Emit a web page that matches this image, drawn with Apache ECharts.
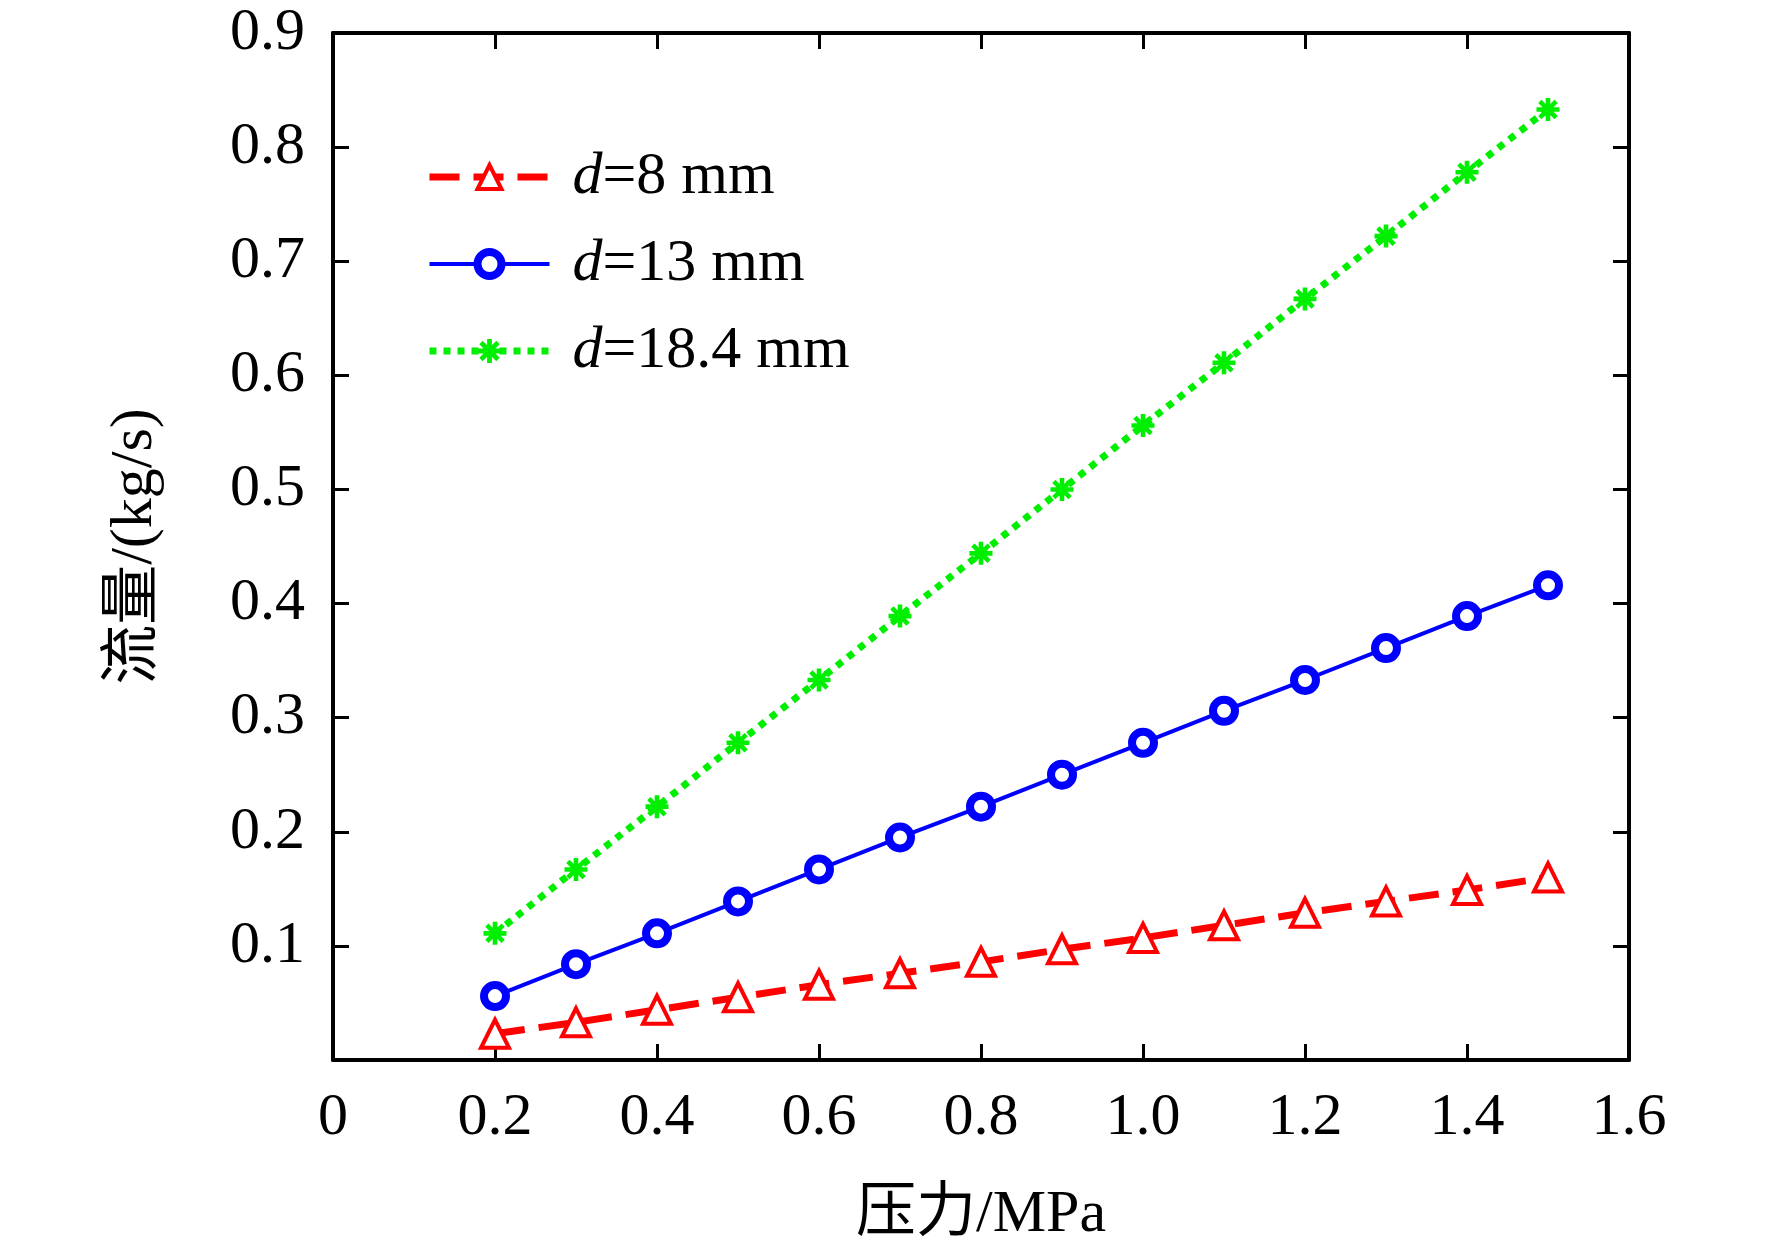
<!DOCTYPE html>
<html>
<head>
<meta charset="utf-8">
<script src="https://cdn.jsdelivr.net/npm/echarts@6/dist/echarts.min.js"></script>
<style>
  html, body { margin: 0; padding: 0; background: #fff; }
  #main { width: 1772px; height: 1258px; }
</style>
</head>
<body>
<div id="main"></div>
<script>
// 压力 (MPa)
var pressure = [0.2, 0.3, 0.4, 0.5, 0.6, 0.7, 0.8, 0.9, 1.0, 1.1, 1.2, 1.3, 1.4, 1.5];
// 流量 (kg/s)
var flow8 = [0.023, 0.033, 0.044, 0.055, 0.066, 0.076, 0.086, 0.097, 0.107, 0.118, 0.129, 0.139, 0.149, 0.160];
var flow13 = [0.056, 0.084, 0.111, 0.139, 0.167, 0.195, 0.222, 0.250, 0.278, 0.306, 0.333, 0.361, 0.389, 0.416];
var flow184 = [0.111, 0.167, 0.222, 0.278, 0.333, 0.389, 0.444, 0.500, 0.556, 0.611, 0.667, 0.722, 0.778, 0.833];
var seriesNames = ['d=8 mm', 'd=13 mm', 'd=18.4 mm'];

var FONT = "'Liberation Serif', 'Times New Roman', 'Noto Sans CJK SC', serif";
var RED = '#ff0000', BLUE = '#0000ff', GREEN = '#00ee00';
var asterisk = 'path://M0 8L20 8L20 12L0 12Z M8 0L12 0L12 20L8 20Z ' +
    'M4.34 1.51L18.49 15.66L15.66 18.49L1.51 4.34Z M15.66 1.51L18.49 4.34L4.34 18.49L1.51 15.66Z';

function pairs(ys) {
    return pressure.map(function (x, i) { return [x, ys[i]]; });
}

var tick = { show: true, inside: true, length: 16, lineStyle: { color: '#000', width: 3 } };
var line = { show: true, onZero: false, lineStyle: { color: '#000', width: 4 } };

var redLine = { color: RED, width: 7, type: [30, 14] };
var blueLine = { color: BLUE, width: 4 };
var greenLine = { color: GREEN, width: 7, type: [7, 7] };
var redItem = { color: '#fff', borderColor: RED, borderWidth: 4 };
var blueItem = { color: '#fff', borderColor: BLUE, borderWidth: 8 };
var greenItem = { color: GREEN };

var myChart = echarts.init(document.getElementById('main'));
var option = {
    backgroundColor: '#fff',
    animation: false,
    grid: { left: 333, right: 143, top: 33, bottom: 198 },
    legend: {
        orient: 'vertical',
        left: 421,
        top: 142,
        itemWidth: 120,
        itemHeight: 30,
        itemGap: 27,
        data: [
            { name: seriesNames[0], lineStyle: redLine, itemStyle: redItem },
            { name: seriesNames[1], lineStyle: blueLine, itemStyle: blueItem },
            { name: seriesNames[2], lineStyle: greenLine, itemStyle: greenItem }
        ],
        formatter: function (name) {
            return '{i|d}{t|' + name.slice(1) + '}';
        },
        textStyle: {
            padding: [0, 0, 0, 18],
            rich: {
                i: { fontFamily: FONT, fontSize: 60, fontStyle: 'italic', color: '#000' },
                t: { fontFamily: FONT, fontSize: 60, color: '#000' }
            }
        }
    },
    xAxis: [{
        type: 'value',
        min: 0, max: 1.6, interval: 0.2,
        name: '压力/MPa',
        nameLocation: 'middle',
        nameGap: 125,
        nameTextStyle: { fontFamily: FONT, fontSize: 60, color: '#000' },
        axisLine: line,
        axisTick: tick,
        splitLine: { show: false },
        axisLabel: {
            margin: 28,
            fontFamily: FONT, fontSize: 60, color: '#000',
            formatter: function (v) { return v === 0 ? '0' : v.toFixed(1); }
        }
    }, {
        type: 'value',
        position: 'top',
        min: 0, max: 1.6, interval: 0.2,
        axisLine: line,
        axisTick: tick,
        splitLine: { show: false },
        axisLabel: { show: false }
    }],
    yAxis: [{
        type: 'value',
        min: 0, max: 0.9, interval: 0.1,
        name: '流量/(kg/s)',
        nameLocation: 'middle',
        nameGap: 168,
        nameTextStyle: { fontFamily: FONT, fontSize: 60, color: '#000' },
        axisLine: line,
        axisTick: tick,
        splitLine: { show: false },
        axisLabel: {
            margin: 28,
            showMinLabel: false,
            fontFamily: FONT, fontSize: 60, color: '#000',
            formatter: function (v) { return v.toFixed(1); }
        }
    }, {
        type: 'value',
        position: 'right',
        min: 0, max: 0.9, interval: 0.1,
        axisLine: line,
        axisTick: tick,
        splitLine: { show: false },
        axisLabel: { show: false }
    }],
    series: [{
        name: seriesNames[0],
        type: 'line',
        data: pairs(flow8),
        symbol: 'triangle',
        symbolSize: 28,
        itemStyle: redItem,
        lineStyle: redLine,
        z: 3
    }, {
        name: seriesNames[1],
        type: 'line',
        data: pairs(flow13),
        symbol: 'circle',
        symbolSize: 22,
        itemStyle: blueItem,
        lineStyle: blueLine,
        z: 4
    }, {
        name: seriesNames[2],
        type: 'line',
        data: pairs(flow184),
        symbol: asterisk,
        symbolSize: 23,
        itemStyle: greenItem,
        lineStyle: greenLine,
        z: 5
    }]
};
myChart.setOption(option);
</script>
</body>
</html>
